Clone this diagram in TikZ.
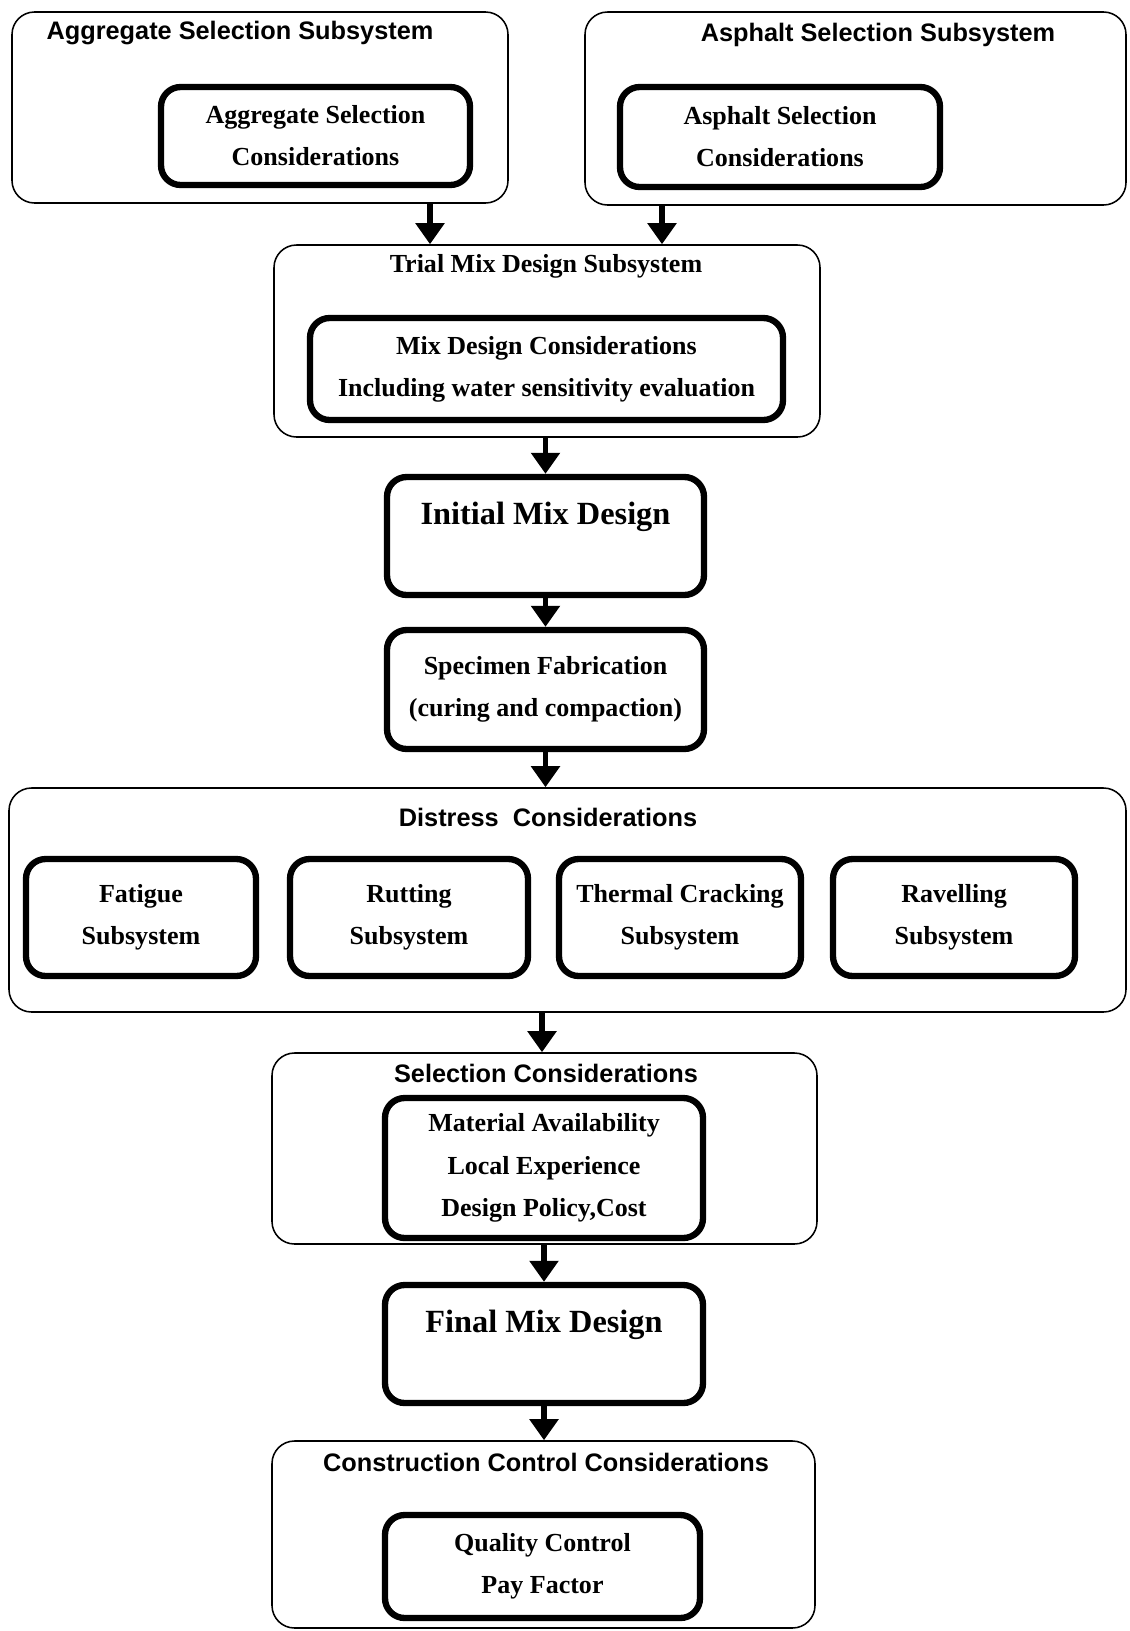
\documentclass[tikz,border=0pt]{standalone}
\usepackage{fontspec}
\setmainfont{Liberation Serif}
\setsansfont{Liberation Sans}
\usetikzlibrary{positioning}
\usetikzlibrary{arrows.meta}

\begin{document}
\begin{tikzpicture}[x=0.025cm,y=-0.025cm,
 boxsize/.style 2 args={minimum width=#1*0.025cm,minimum height=#2*0.025cm},
 subsys/.style={draw,line width=1.1pt,rounded corners=16pt,inner sep=0pt},
 block/.style={draw,line width=4.5pt,rounded corners=14pt,inner sep=0pt,align=center,
   font=\bfseries\fontsize{18.5}{30}\selectfont},
 heading/.style={font=\sffamily\bfseries\fontsize{18}{22}\selectfont},
 flow/.style={line width=4pt,-{Triangle[width=20pt,length=15pt]}}]
 \useasboundingbox (0,0) rectangle (1130,1631);

 \node[subsys,boxsize={496}{191}] (aggsys) at (260,107.5) {};
 \node[subsys,boxsize={541}{193}] (asphsys) at (855.5,108.5) {};
 \node[subsys,boxsize={546}{192}] (trialsys) at (547,341) {};
 \node[subsys,boxsize={1117}{224}] (distsys) at (567.5,900) {};
 \node[subsys,boxsize={545}{191}] (selsys) at (544.5,1148.5) {};
 \node[subsys,boxsize={543}{187}] (conssys) at (543.5,1534.5) {};

 \node[heading] (aggtitle) at (240,33) {Aggregate Selection Subsystem};
 \node[heading] (asphtitle) at (878,35) {Asphalt Selection Subsystem};
 \node[font=\bfseries\fontsize{18.5}{22}\selectfont] (trialtitle) at (546,266) {Trial Mix Design Subsystem};
 \node[heading] (disttitle) at (548,817) {Distress\ \ Considerations};
 \node[heading] (seltitle) at (546,1073) {Selection Considerations};
 \node[heading] (constitle) at (546,1462) {Construction Control Considerations};

 \node[block,boxsize={309}{98}] (aggin) at (315.5,136) {Aggregate Selection\\Considerations};
 \node[block,boxsize={320}{100}] (asphin) at (780,137) {Asphalt Selection\\Considerations};
 \node[block,boxsize={473}{102}] (trialin) at (546.5,369) {Mix Design Considerations\\Including water sensitivity evaluation};
 \node[block,boxsize={317}{118},font=\bfseries\fontsize{23}{32}\selectfont] (initial) at (545.5,536) {Initial Mix Design\\\mbox{}};
 \node[block,boxsize={317}{119}] (specimen) at (545.5,689.5) {Specimen Fabrication\\(curing and compaction)};
 \node[block,boxsize={230}{117}] (fatigue) at (141,917.5) {Fatigue\\Subsystem};
 \node[block,boxsize={238}{117}] (rutting) at (409,917.5) {Rutting\\Subsystem};
 \node[block,boxsize={242}{117}] (thermal) at (680,917.5) {Thermal Cracking\\Subsystem};
 \node[block,boxsize={242}{117}] (ravel) at (954,917.5) {Ravelling\\Subsystem};
 \node[block,boxsize={318}{140}] (selin) at (544,1168) {Material Availability\\Local Experience\\Design Policy,Cost};
 \node[block,boxsize={318}{118},font=\bfseries\fontsize{23}{32}\selectfont] (final) at (544,1344) {Final Mix Design\\\mbox{}};
 \node[block,boxsize={315}{103}] (quality) at (542.5,1566.5) {Quality Control\\Pay Factor};

 \draw[flow] (aggsys.south -| 430,0) -- (trialsys.north -| 430,0);
 \draw[flow] (asphsys.south -| 662,0) -- (trialsys.north -| 662,0);
 \draw[flow] (initial.north |- trialsys.south) -- (initial.north);
 \draw[flow] (initial) -- (specimen);
 \draw[flow] (specimen.south) -- (specimen.south |- distsys.north);
 \draw[flow] (selsys.north -| 542,0) ++(0,-41) -- (selsys.north -| 542,0);
 \draw[flow] (final.north |- selsys.south) -- (final.north);
 \draw[flow] (final.south) -- (final.south |- conssys.north);
\end{tikzpicture}
\end{document}
